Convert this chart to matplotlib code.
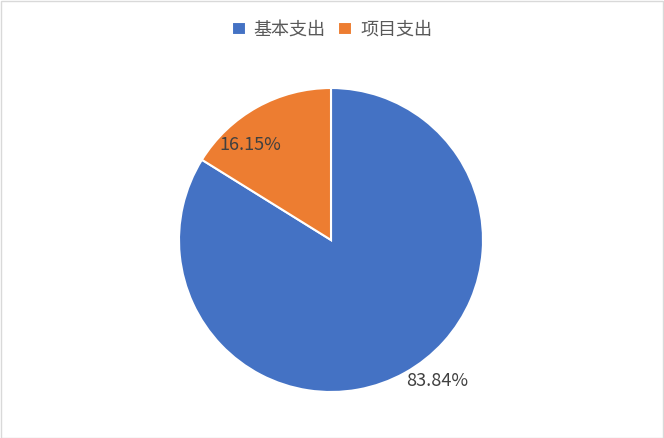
import matplotlib
matplotlib.use("Agg")
import matplotlib.pyplot as plt
from matplotlib.patches import Rectangle

plt.rcParams['font.family'] = ['Noto Sans CJK SC', 'DejaVu Sans']

categories = ["基本支出", "项目支出"]
values = [83.84, 16.15]
colors = ["#4472C4", "#ED7D31"]
label_pos = [(0.70, -0.93), (-0.53, 0.625)]

W, H = 664, 438
fig = plt.figure(figsize=(W / 100, H / 100), dpi=100)
cx, cy, r = 331, 240, 152
ax = fig.add_axes([(cx - r) / W, (H - cy - r) / H, 2 * r / W, 2 * r / H])
wedges, _ = ax.pie(values, colors=colors, startangle=90, counterclock=False,
                   radius=1, wedgeprops=dict(edgecolor="white", linewidth=1.5))
ax.set_xlim(-1, 1)
ax.set_ylim(-1, 1)
ax.set_aspect("equal")
for v, (x, y) in zip(values, label_pos):
    ax.text(x, y, f"{v:.2f}%", ha="center", va="center", fontsize=13, color="#404040")

leg = fig.legend(wedges, categories, loc="center", bbox_to_anchor=(0.5, 1 - 30 / H),
                 ncol=2, frameon=False, fontsize=13, handlelength=0.75, handleheight=0.75,
                 handletextpad=0.45, columnspacing=0.7, labelcolor="#595959")

fig.patches.append(Rectangle((0.5 / W, 0.5 / H), 1 - 1.5 / W, 1 - 1.5 / H, transform=fig.transFigure,
                             fill=False, edgecolor="#D9D9D9", linewidth=1))
fig.savefig("out.png", dpi=100, facecolor="white")
